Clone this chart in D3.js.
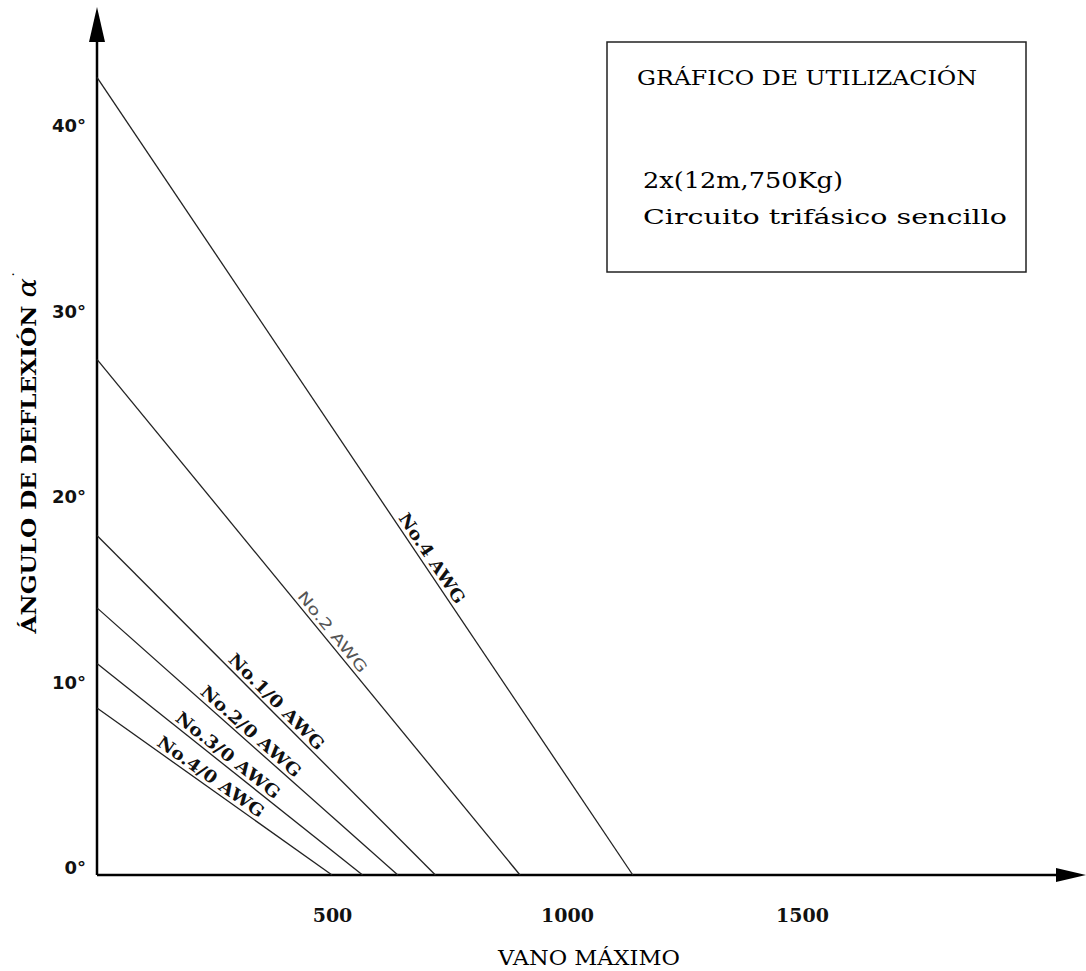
<!DOCTYPE html>
<html>
<head>
<meta charset="utf-8">
<script src="https://cdn.jsdelivr.net/npm/d3@7"></script>
<style>
  body { margin: 0; background: #fff; }
  svg { display: block; }
</style>
</head>
<body>
<div id="main"></div>
<script>
// conductors
const conductors = ["No.4 AWG", "No.2 AWG", "No.1/0 AWG", "No.2/0 AWG", "No.3/0 AWG", "No.4/0 AWG"];
const maxAngle = [43.0, 27.8, 18.3, 14.4, 11.4, 9.0];   // deflexion at span 0 (deg)
const maxSpan = [1140, 900, 720, 640, 565, 500];        // span at 0 deg (m)
const xTicks = [500, 1000, 1500];
const yTicks = [0, 10, 20, 30, 40];

const width = 1086, height = 971;

const svg = d3.select('#main')
  .append('svg')
  .attr('width', width)
  .attr('height', height);

const x = d3.scaleLinear().domain([0, 2000]).range([97, 1037]);
const y = d3.scaleLinear().domain([0, 45]).range([875, 40.25]);

// axes lines with arrows
svg.append('line')
  .attr('x1', x(0)).attr('y1', y(0))
  .attr('x2', x(0)).attr('y2', 30)
  .attr('stroke', '#000').attr('stroke-width', 2.5);
svg.append('path')
  .attr('d', `M${x(0)},7 L${x(0) - 8},42 L${x(0) + 8},42 Z`)
  .attr('fill', '#000');

svg.append('line')
  .attr('x1', x(0)).attr('y1', y(0))
  .attr('x2', 1065).attr('y2', y(0))
  .attr('stroke', '#000').attr('stroke-width', 2.5);
svg.append('path')
  .attr('d', `M1086,${y(0)} L1056,${y(0) - 7} L1056,${y(0) + 7} Z`)
  .attr('fill', '#000');

// tick labels
const yAxis = svg.append('g')
  .attr('transform', `translate(${x(0)},0)`)
  .call(d3.axisLeft(y).tickValues(yTicks).tickSize(0).tickPadding(11).tickFormat(d => d + '°'));
yAxis.select('.domain').remove();
yAxis.selectAll('text')
  .attr('y', -7)
  .attr('font-family', 'DejaVu Sans')
  .attr('font-weight', 'bold')
  .attr('font-size', 18)
  .attr('fill', '#111');

const xAxis = svg.append('g')
  .attr('transform', `translate(0,${y(0)})`)
  .call(d3.axisBottom(x).tickValues(xTicks).tickSize(0).tickPadding(0).tickFormat(d3.format('d')));
xAxis.select('.domain').remove();
xAxis.selectAll('text')
  .attr('y', 47)
  .attr('dy', 0)
  .attr('font-family', 'DejaVu Serif')
  .attr('font-weight', 'bold')
  .attr('font-size', 19)
  .attr('fill', '#111');

// axis titles
svg.append('text')
  .attr('x', 589)
  .attr('y', 965)
  .attr('text-anchor', 'middle')
  .attr('font-family', 'DejaVu Serif')
  .attr('font-size', 21)
  .attr('textLength', 182)
  .attr('lengthAdjust', 'spacingAndGlyphs')
  .text('VANO  MÁXIMO');

const yTitle = svg.append('text')
  .attr('transform', 'translate(36,452) rotate(-90)')
  .attr('text-anchor', 'middle')
  .attr('font-family', 'DejaVu Serif')
  .attr('font-weight', 'bold')
  .attr('font-size', 21)
  .attr('textLength', 363)
  .attr('lengthAdjust', 'spacingAndGlyphs');
yTitle.append('tspan').text('ÁNGULO  DE  DEFLEXIÓN ');
yTitle.append('tspan').attr('font-style', 'italic').attr('font-weight', 'normal').attr('font-size', 26).text('α');
yTitle.append('tspan').attr('dy', -12).attr('font-size', 14).attr('font-weight', 'normal').text('˙');

// conductor lines
const lines = conductors.map((name, i) => ({
  name: name,
  pts: [[0, maxAngle[i]], [maxSpan[i], 0]]
}));

const lineGen = d3.line().x(d => x(d[0])).y(d => y(d[1]));

svg.selectAll('.cond')
  .data(lines)
  .enter().append('path')
  .attr('class', 'cond')
  .attr('d', d => lineGen(d.pts))
  .attr('fill', 'none')
  .attr('stroke', '#222')
  .attr('stroke-width', 1.3);

// labels along lines
const labelT = [0.61, 0.54, 0.51, 0.49, 0.47, 0.46];
const labelLen = [105, 100, 128, 128, 128, 127];

svg.selectAll('.lbl')
  .data(lines)
  .enter().append('text')
  .attr('class', 'lbl')
  .attr('transform', (d, i) => {
    const a = d.pts[0], b = d.pts[1];
    const t = labelT[i];
    const px = x(a[0] + t * (b[0] - a[0]));
    const py = y(a[1] + t * (b[1] - a[1]));
    const ang = Math.atan2(y(b[1]) - y(a[1]), x(b[0]) - x(a[0])) * 180 / Math.PI;
    return `translate(${px},${py}) rotate(${ang})`;
  })
  .attr('y', -4)
  .attr('text-anchor', 'middle')
  .attr('font-family', (d, i) => i === 1 ? 'DejaVu Sans' : 'DejaVu Serif')
  .attr('font-weight', (d, i) => i === 1 ? 'normal' : 'bold')
  .attr('font-size', (d, i) => i === 1 ? 15 : 17)
  .attr('fill', (d, i) => i === 1 ? '#555' : '#111')
  .attr('textLength', (d, i) => labelLen[i])
  .attr('lengthAdjust', 'spacingAndGlyphs')
  .text(d => d.name);

// info box
const box = svg.append('g');
box.append('rect')
  .attr('x', 607).attr('y', 42)
  .attr('width', 419).attr('height', 230)
  .attr('fill', 'none')
  .attr('stroke', '#222')
  .attr('stroke-width', 1.5);

box.append('text')
  .attr('x', 637).attr('y', 85)
  .attr('font-family', 'DejaVu Serif')
  .attr('font-size', 21)
  .attr('textLength', 340)
  .attr('lengthAdjust', 'spacingAndGlyphs')
  .text('GRÁFICO  DE  UTILIZACIÓN');

box.append('text')
  .attr('x', 643).attr('y', 188)
  .attr('font-family', 'DejaVu Serif')
  .attr('font-size', 22)
  .attr('textLength', 200)
  .attr('lengthAdjust', 'spacingAndGlyphs')
  .text('2x(12m,750Kg)');

box.append('text')
  .attr('x', 643).attr('y', 224)
  .attr('font-family', 'DejaVu Serif')
  .attr('font-size', 21)
  .attr('textLength', 364)
  .attr('lengthAdjust', 'spacingAndGlyphs')
  .text('Circuito  trifásico  sencillo');
</script>
</body>
</html>
